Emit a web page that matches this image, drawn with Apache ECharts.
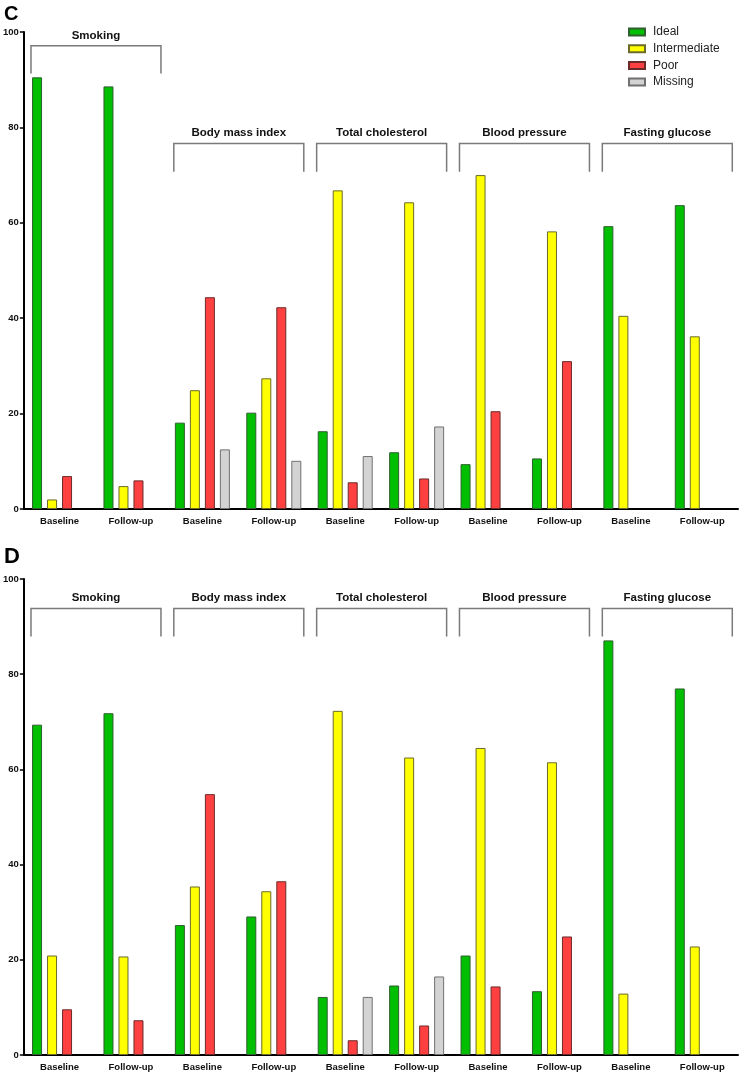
<!DOCTYPE html>
<html>
<head>
<meta charset="utf-8">
<script src="https://cdn.jsdelivr.net/npm/echarts@6/dist/echarts.min.js"></script>
<style>
html,body{margin:0;padding:0;background:#fff;}
#chart{width:740px;height:1073px;}
</style>
</head>
<body>
<div id="chart"></div>
<script>
// ---- data ----
const categories = ['Baseline','Follow-up','Baseline','Follow-up','Baseline','Follow-up','Baseline','Follow-up','Baseline','Follow-up'];
const groups = ['Smoking','Body mass index','Total cholesterol','Blood pressure','Fasting glucose'];
const seriesNames = ['Ideal','Intermediate','Poor','Missing'];
const yTicks = [0, 20, 40, 60, 80, 100];

// Panel C
const idealC = [90.5, 88.6, 18.1, 20.2, 16.3, 11.9, 9.4, 10.6, 59.3, 63.7];
const interC = [2.0, 4.8, 24.9, 27.4, 66.8, 64.3, 70.0, 58.2, 40.5, 36.2];
const poorC  = [6.9, 6.0, 44.4, 42.3, 5.6, 6.4, 20.5, 31.0, null, null];
const missC  = [null, null, 12.5, 10.1, 11.1, 17.3, null, null, null, null];
const bracketTopC    = [97.1, 76.6, 76.6, 76.6, 76.6];
const bracketBottomC = [91.3, 70.7, 70.7, 70.7, 70.7];

// Panel D
const idealD = [69.4, 71.8, 27.3, 29.1, 12.2, 14.6, 20.9, 13.4, 87.1, 77.0];
const interD = [20.9, 20.7, 35.4, 34.4, 72.3, 62.5, 64.5, 61.5, 12.9, 22.8];
const poorD  = [9.6, 7.3, 54.8, 36.5, 3.1, 6.2, 14.4, 24.9, null, null];
const missD  = [null, null, null, null, 12.2, 16.5, null, null, null, null];
const bracketTopD    = [93.8, 93.8, 93.8, 93.8, 93.8];
const bracketBottomD = [87.9, 87.9, 87.9, 87.9, 87.9];

// ---- styles ----
const FONT = '"Liberation Sans", Arial, sans-serif';
const colors = ['#00bf00', '#ffff00', '#ff4040', '#d3d3d3'];
const borders = ['#2f5f2f', '#6b6b2a', '#6b2a2a', '#707070'];

function barSeries(name, data, idx, axisIdx) {
  return {
    type: 'bar', name: name, data: data,
    xAxisIndex: axisIdx, yAxisIndex: axisIdx,
    barWidth: 10, barGap: '50%',
    itemStyle: { color: colors[idx], borderColor: borders[idx], borderWidth: 1 },
    emphasis: { disabled: true },
    animation: false
  };
}

function bracketSeries(tops, bottoms, axisIdx) {
  const data = groups.map((g, i) => [i * 2, i * 2 + 1, tops[i], bottoms[i], g]);
  return {
    type: 'custom', xAxisIndex: axisIdx, yAxisIndex: axisIdx,
    data: data, clip: false, silent: true, animation: false,
    encode: { x: 0, y: 2 },
    renderItem: function (params, api) {
      const s = api.value(0), e = api.value(1);
      const top = api.value(2), bot = api.value(3);
      const band = api.size([1, 0])[0];
      const pS = api.coord([s, top]);
      const pE = api.coord([e, bot]);
      const xl = pS[0] - band * 0.40;
      const xr = pE[0] + band * 0.42;
      const yt = pS[1], yb = pE[1];
      return {
        type: 'group',
        children: [
          { type: 'polyline',
            shape: { points: [[xl, yb], [xl, yt], [xr, yt], [xr, yb]] },
            style: { stroke: '#7a7a7a', lineWidth: 1.5, fill: null } },
          { type: 'text',
            style: { text: groups[params.dataIndex], x: (xl + xr) / 2, y: yt - 10.5,
                     align: 'center', verticalAlign: 'middle',
                     font: 'bold 11.5px ' + FONT, fill: '#111' } }
        ]
      };
    }
  };
}

function xAxisCfg(gridIndex) {
  return {
    type: 'category', gridIndex: gridIndex, data: categories,
    axisLine: { lineStyle: { color: '#000', width: 2 } },
    axisTick: { show: false },
    axisLabel: { color: '#111', fontFamily: FONT, fontWeight: 'bold', fontSize: 9.5, margin: 7, interval: 0 },
    splitLine: { show: false }
  };
}
function yAxisCfg(gridIndex) {
  return {
    type: 'value', gridIndex: gridIndex, min: yTicks[0], max: yTicks[yTicks.length - 1], interval: 20,
    axisLine: { show: true, lineStyle: { color: '#000', width: 2 } },
    axisTick: { show: true, length: 4, lineStyle: { color: '#000', width: 1.5 } },
    axisLabel: { color: '#111', fontFamily: FONT, fontWeight: 'bold', fontSize: 9.5, margin: 5 },
    splitLine: { show: false }
  };
}

const series = [];
[idealC, interC, poorC, missC].forEach((d, i) => series.push(barSeries(seriesNames[i], d, i, 0)));
[idealD, interD, poorD, missD].forEach((d, i) => series.push(barSeries(seriesNames[i], d, i, 1)));
series.push(bracketSeries(bracketTopC, bracketBottomC, 0));
series.push(bracketSeries(bracketTopD, bracketBottomD, 1));

const chart = echarts.init(document.getElementById('chart'), null, { renderer: 'canvas' });
chart.setOption({
  backgroundColor: '#fff',
  animation: false,
  grid: [
    { left: 22, right: 2, top: 32, height: 477 },
    { left: 22, right: 2, top: 579, height: 476 }
  ],
  xAxis: [xAxisCfg(0), xAxisCfg(1)],
  yAxis: [yAxisCfg(0), yAxisCfg(1)],
  legend: {
    data: seriesNames, orient: 'vertical', left: 628, top: 26, padding: 0,
    itemWidth: 16, itemHeight: 7, itemGap: 4.7,
    icon: 'rect',
    textStyle: { fontFamily: FONT, fontSize: 12, color: '#222', padding: [0, 0, 0, 3] },
    selectedMode: false
  },
  graphic: [
    { type: 'text', left: 4, top: 4, style: { text: 'C', font: 'bold 20px ' + FONT, fill: '#000' } },
    { type: 'text', left: 4, top: 546, style: { text: 'D', font: 'bold 22px ' + FONT, fill: '#000' } }
  ],
  series: series
});
</script>
</body>
</html>
